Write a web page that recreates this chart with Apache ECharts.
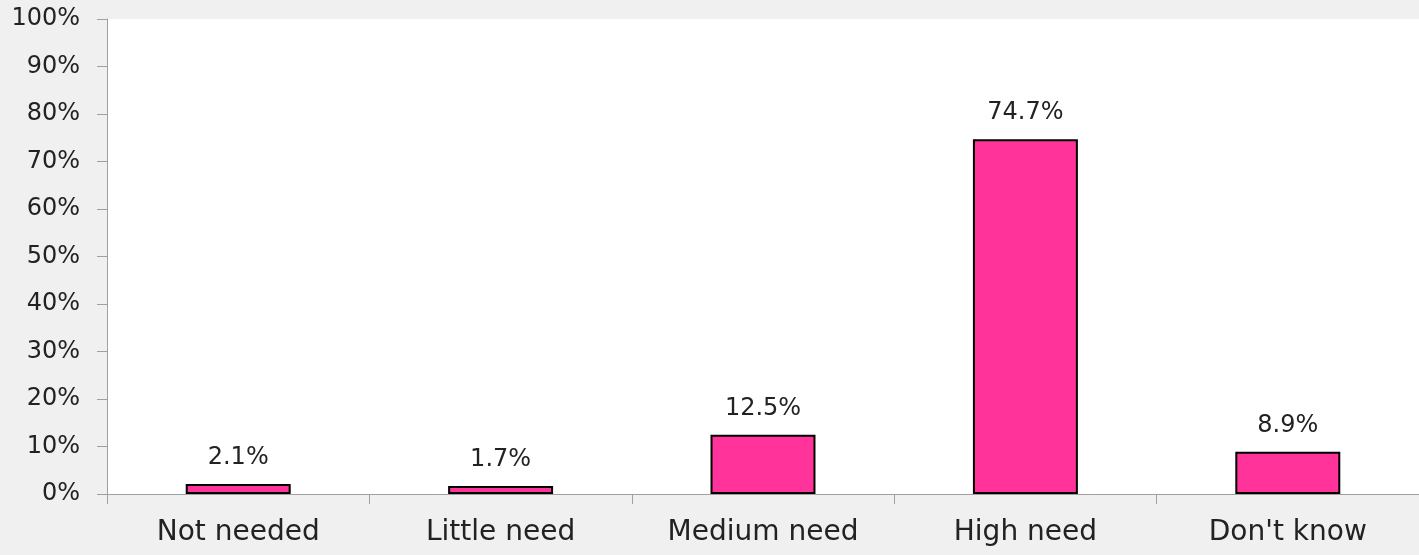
<!DOCTYPE html>
<html><head><meta charset="utf-8">
<script src="https://cdn.jsdelivr.net/npm/echarts@6/dist/echarts.min.js"></script>
<style>html,body{margin:0;padding:0;background:#f0f0f0}#c{width:1419px;height:555px}</style>
</head><body><div id="c"></div>
<script>
const categories = ["Not needed", "Little need", "Medium need", "High need", "Don't know"];
const values = [2.1, 1.7, 12.5, 74.7, 8.9];
const yTicks = [0, 10, 20, 30, 40, 50, 60, 70, 80, 90, 100];

const FONT = '"DejaVu Sans", sans-serif';
const chart = echarts.init(document.getElementById('c'), null, {renderer: 'canvas'});
chart.setOption({
  backgroundColor: '#f0f0f0',
  animation: false,
  grid: {left: 107, right: 0, top: 19, bottom: 61, show: true, backgroundColor: '#ffffff', borderWidth: 0},
  xAxis: {
    type: 'category', data: categories,
    axisLine: {lineStyle: {color: '#a0a0a0', width: 1}},
    axisTick: {show: true, length: 10, lineStyle: {color: '#a0a0a0'}},
    axisLabel: {color: '#222222', fontSize: 28, fontFamily: FONT, margin: 25}
  },
  yAxis: {
    type: 'value', min: yTicks[0], max: yTicks[yTicks.length - 1], interval: 10,
    axisLine: {show: true, lineStyle: {color: '#a0a0a0', width: 1}},
    axisTick: {show: true, length: 10, lineStyle: {color: '#a0a0a0'}},
    splitLine: {show: false},
    axisLabel: {color: '#222222', fontSize: 24, fontFamily: FONT, margin: 27, formatter: v => v + '%'}
  },
  series: [{
    type: 'bar', data: values, barWidth: '40%',
    itemStyle: {color: '#ff3399', borderColor: '#000', borderWidth: 2},
    label: {show: true, position: 'top', distance: 14, color: '#222222', fontSize: 24, fontFamily: FONT, formatter: p => p.value.toFixed(1) + '%'}
  }]
});
</script></body></html>
